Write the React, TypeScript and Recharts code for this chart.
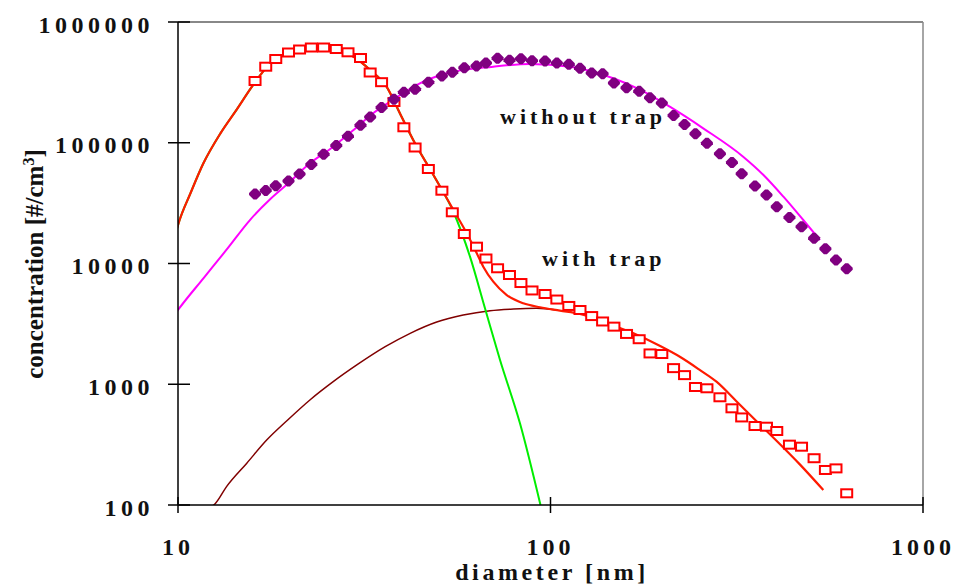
import { ComposedChart, Line, Scatter, XAxis, YAxis, ReferenceLine, Customized } from "recharts";

// SMPS channel mid diameters [nm], shared by both measured series
const diameter = [
  16.1, 17.2, 18.3, 19.8, 21.2, 22.8, 24.6, 26.6, 28.6, 30.9, 32.8, 35.2, 38.0,
  40.4, 43.3, 47.0, 51.1, 54.5, 58.7, 63.3, 67.1, 72.1, 77.6, 83.3, 89.2, 96.7,
  104, 112, 120, 129, 138, 148, 160, 173, 185, 199, 214, 229, 245, 263, 285,
  307, 326, 354, 380, 405, 438, 472, 510, 547, 584, 624,
];

// measured, with trap (open squares)
const withTrap = [
  324600, 426400, 493700, 558900, 591800, 614800, 614800, 597500, 561100, 503200,
  381800, 317400, 217500, 134300, 91350, 60620, 40080, 26550, 17550, 13780,
  11000, 9130, 8030, 6890, 5980, 5590, 5030, 4450, 4120, 3670, 3310, 3000, 2610,
  2360, 1800, 1780, 1360, 1190, 949, 926, 780, 632, 531, 451, 445, 410, 316, 304,
  244, 195, 201, 125,
];

// measured, without trap (filled diamonds)
const withoutTrap = [
  37630, 40240, 44100, 48230, 55110, 66070, 80400, 94890, 113300, 139500,
  163400, 195800, 229400, 261700, 277200, 316700, 357100, 383200, 418300, 432100,
  457600, 500500, 481800, 496700, 478100, 475400, 457600, 446300, 413600, 378100,
  373100, 312500, 285200, 267300, 235700, 213400, 168200, 141600, 118600, 98970,
  81180, 68630, 55420, 43830, 36920, 29540, 24040, 20170, 16170, 13240, 10690, 9040,
];

// fit without trap (magenta)
const fitNoTrapD = [
  9.71, 10.0, 11.7, 13.5, 15.6, 17.7, 19.6, 22.6, 26.1, 29.6, 33.4, 37.1, 44.6,
  52.7, 70.2, 88.1, 113, 139, 178, 209, 257, 329, 373, 422, 477, 529,
];
const fitNoTrapC = [
  3630, 4120, 7540, 13000, 22900, 34200, 45100, 67600, 92800, 127500, 175400,
  218800, 310700, 376000, 426400, 448900, 426400, 364000, 264800, 198800, 131700,
  76650, 54060, 35740, 22930, 15650,
];

// fit with trap = sum of both modes (red)
const fitTrapD = [
  9.71, 10.1, 10.8, 11.7, 13.0, 14.4, 15.9, 17.7, 19.6, 21.7, 24.1, 26.7, 29.6,
  32.8, 36.3, 39.5, 42.8, 48.5, 54.9, 59.6, 63.4, 66.0, 70.2, 76.3, 84.5, 93.7,
  106, 120, 142, 167, 197, 223, 252, 279, 316, 358, 405, 467, 540,
];
const fitTrapC = [
  15150, 22930, 38140, 67570, 119700, 190000, 300000, 455000, 550600, 605500,
  612800, 586400, 516100, 400400, 291300, 173100, 105400, 54060, 27740, 17790,
  12150, 9410, 7070, 5480, 4680, 4340, 4070, 3820, 3200, 2640, 2070, 1680, 1310,
  1050, 720, 492, 339, 217, 133,
];

// nucleation mode (green)
const nucD = [
  9.71, 10.1, 10.8, 11.7, 13.0, 14.4, 15.9, 17.7, 19.6, 21.7, 24.1, 26.7, 29.6,
  32.8, 36.3, 39.5, 42.8, 48.5, 54.9, 60.8, 66.7, 73.2, 82.8, 94.0,
];
const nucC = [
  15150, 22930, 38140, 67570, 119700, 190000, 300000, 455000, 550600, 605500,
  612800, 586400, 516100, 400400, 291300, 173100, 105400, 54060, 26700, 11390,
  4256, 1588, 475, 100,
];

// accumulation mode (dark red)
const accD = [12.2, 12.6, 13.5, 15.3, 17.3, 19.7, 22.6, 26.1, 30.2, 36.0, 42.0, 49.5, 58.3, 68.8, 79.5, 91.8, 104];
const accC = [95, 103, 142, 222, 345, 506, 741, 1050, 1444, 2046, 2642, 3277, 3745, 4065, 4200, 4256, 4120];

const xTicks = [10, 100, 1000];
const yTicks = [100, 1000, 10000, 100000, 1000000];

const toPoints = (ds: number[], cs: number[]) => ds.map((d, i) => ({ d, c: cs[i] }));

const FONT = "'Liberation Serif', 'Times New Roman', serif";
const AXIS_X = 178;
const AXIS_Y = 505;

const YTick = ({ y, payload }: any) => (
  <g>
    <line x1={AXIS_X - 10} x2={AXIS_X + 12} y1={y} y2={y} stroke="#000" strokeWidth={1.5} />
    <text x={154} y={y + 10.5} textAnchor="end" fontFamily={FONT} fontWeight="bold" fontSize={24} letterSpacing={4.5} fill="#111">
      {payload.value}
    </text>
  </g>
);

const XTick = ({ x, payload }: any) => (
  <g>
    <line x1={x} x2={x} y1={AXIS_Y - 8} y2={AXIS_Y + 8} stroke="#000" strokeWidth={1.5} />
    <text x={x} y={555} textAnchor="middle" fontFamily={FONT} fontWeight="bold" fontSize={24} letterSpacing={4} fill="#111">
      {payload.value}
    </text>
  </g>
);

const OpenSquare = ({ cx, cy }: any) => (
  <rect x={cx - 5.5} y={cy - 4} width={11} height={8} fill="#fff" stroke="#ff0000" strokeWidth={2} />
);

const Blob = ({ cx, cy }: any) => (
  <polygon
    points={`${cx - 6},${cy - 1} ${cx - 1.5},${cy - 5.5} ${cx + 1.5},${cy - 5.5} ${cx + 6},${cy - 1} ${cx + 6},${cy + 1} ${cx + 1.5},${cy + 5.5} ${cx - 1.5},${cy + 5.5} ${cx - 6},${cy + 1}`}
    fill="#800080"
  />
);

const Labels = () => (
  <g fontFamily={FONT} fontWeight="bold" fill="#111">
    <text x={500} y={124} fontSize={22} letterSpacing={4}>without trap</text>
    <text x={542} y={266} fontSize={22} letterSpacing={4}>with trap</text>
    <text x={552} y={580} textAnchor="middle" fontSize={24} letterSpacing={3.6}>diameter [nm]</text>
    <text transform="translate(43,264) rotate(-90)" textAnchor="middle" fontSize={25}>
      concentration [#/cm<tspan dy={-9} fontSize={16}>3</tspan><tspan dy={9}>]</tspan>
    </text>
  </g>
);

export default function App() {
  return (
    <div style={{ position: "absolute", left: 0, top: 0 }}>
      <ComposedChart width={956} height={586} margin={{ top: 22, right: 33, bottom: 0, left: 0 }}>
        <XAxis
          type="number"
          dataKey="d"
          scale="log"
          domain={[10, 1000]}
          ticks={xTicks}
          allowDataOverflow
          height={81}
          axisLine={{ stroke: "#000", strokeWidth: 1.5 }}
          tickLine={false}
          tick={<XTick />}
        />
        <YAxis
          type="number"
          dataKey="c"
          scale="log"
          domain={[100, 1000000]}
          ticks={yTicks}
          allowDataOverflow
          width={178}
          axisLine={{ stroke: "#000", strokeWidth: 1.5 }}
          tickLine={false}
          tick={<YTick />}
        />
        <ReferenceLine y={1000000} stroke="#888" strokeWidth={2} />
        <ReferenceLine x={1000} stroke="#888" strokeWidth={1.5} />
        <Line data={toPoints(accD, accC)} dataKey="c" stroke="#800000" strokeWidth={1.5} dot={false} type="monotone" isAnimationActive={false} />
        <Line data={toPoints(nucD, nucC)} dataKey="c" stroke="#00ee00" strokeWidth={2} dot={false} type="monotone" isAnimationActive={false} />
        <Line data={toPoints(fitNoTrapD, fitNoTrapC)} dataKey="c" stroke="#ff00ff" strokeWidth={2} dot={false} type="monotone" isAnimationActive={false} />
        <Line data={toPoints(fitTrapD, fitTrapC)} dataKey="c" stroke="#ff1a00" strokeWidth={2.2} dot={false} type="monotone" isAnimationActive={false} />
        <Scatter data={toPoints(diameter, withTrap)} dataKey="c" shape={<OpenSquare />} isAnimationActive={false} />
        <Scatter data={toPoints(diameter, withoutTrap)} dataKey="c" shape={<Blob />} isAnimationActive={false} />
        <Customized component={Labels} />
      </ComposedChart>
    </div>
  );
}
